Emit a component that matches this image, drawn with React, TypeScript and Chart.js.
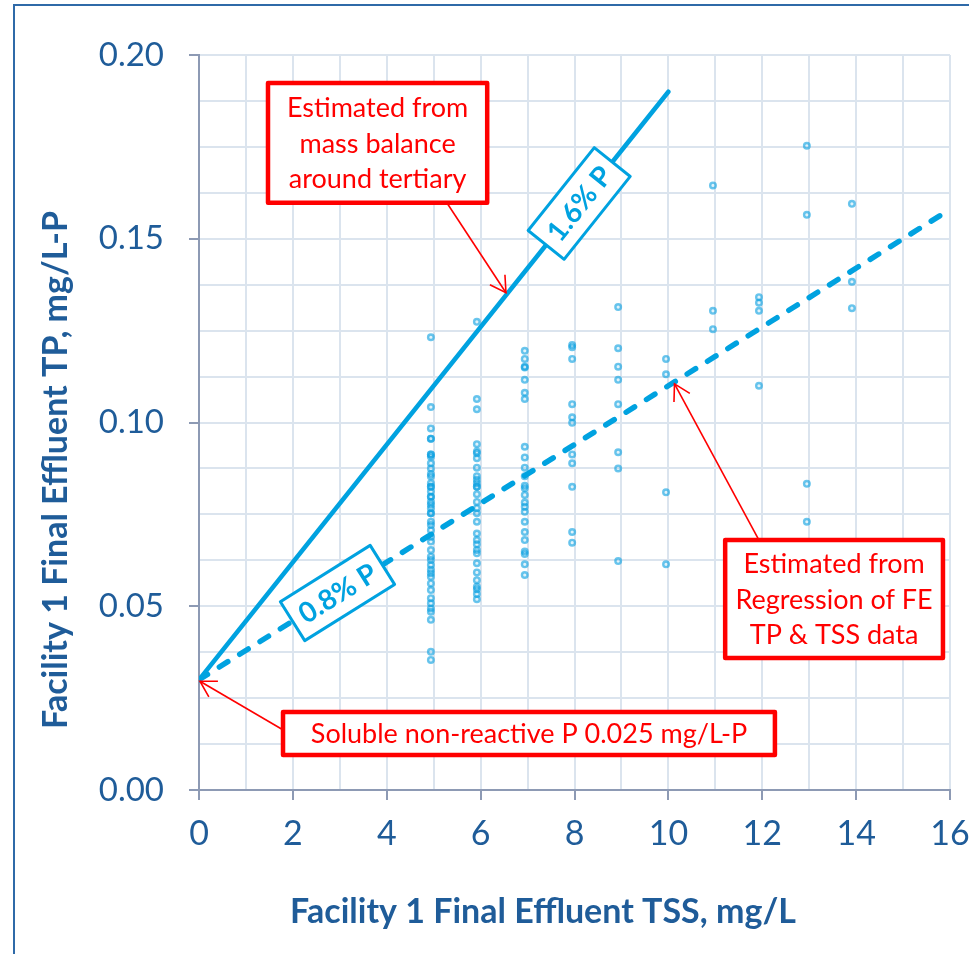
import React, { useEffect, useRef } from 'react';
import { Chart, registerables } from 'chart.js';

Chart.register(...registerables);

// ---------- data ----------
const tssLevels = [4.94, 5.92, 6.94, 7.95, 8.93, 9.95, 10.95, 11.93, 12.95, 13.91];

const tpAtTss5 = [0.1232, 0.1042, 0.0984, 0.0956, 0.0956, 0.0913, 0.0913, 0.0907, 0.0889, 0.0875, 0.086, 0.0853, 0.0835, 0.0825, 0.0825, 0.0812, 0.0798, 0.0798, 0.0784, 0.0776, 0.0767, 0.0753, 0.0753, 0.073, 0.0721, 0.0707, 0.0689, 0.0676, 0.0653, 0.0635, 0.0626, 0.0612, 0.0599, 0.059, 0.058, 0.0562, 0.0544, 0.0522, 0.0508, 0.0494, 0.0485, 0.0463, 0.0376, 0.0354];
const tpAtTss6 = [0.1274, 0.1064, 0.1036, 0.0941, 0.0921, 0.0916, 0.0903, 0.0877, 0.0854, 0.0844, 0.0835, 0.0825, 0.0825, 0.0805, 0.0784, 0.0767, 0.0753, 0.073, 0.0698, 0.068, 0.0669, 0.0653, 0.0644, 0.0617, 0.0592, 0.0571, 0.0553, 0.0546, 0.0533, 0.0519];
const tpAtTss7 = [0.1195, 0.1173, 0.1152, 0.115, 0.1116, 0.1081, 0.1064, 0.0934, 0.0905, 0.0877, 0.0854, 0.0828, 0.0821, 0.0803, 0.0782, 0.0771, 0.0757, 0.073, 0.0702, 0.068, 0.0649, 0.0642, 0.0614, 0.0585];
const tpAtTss8 = [0.1211, 0.1205, 0.1173, 0.105, 0.1014, 0.0999, 0.0913, 0.0889, 0.0825, 0.0702, 0.0673];
const tpAtTss9 = [0.1314, 0.1202, 0.1152, 0.1116, 0.105, 0.0919, 0.0875, 0.0623];
const tpAtTss10 = [0.1173, 0.1131, 0.081, 0.0614];
const tpAtTss11 = [0.1645, 0.1304, 0.1254];
const tpAtTss12 = [0.1341, 0.1326, 0.1304, 0.11];
const tpAtTss13 = [0.1753, 0.1565, 0.0833, 0.073];
const tpAtTss14 = [0.1595, 0.1383, 0.1311];
const tpColumns = [tpAtTss5, tpAtTss6, tpAtTss7, tpAtTss8, tpAtTss9, tpAtTss10, tpAtTss11, tpAtTss12, tpAtTss13, tpAtTss14];

// mass-balance line (1.6% P) and regression line (0.8% P)
const massBalanceX = [0, 10];
const massBalanceY = [0.03, 0.19];
const regressionX = [0, 16];
const regressionY = [0.03, 0.158];

const xTickLabels = ['0', '2', '4', '6', '8', '10', '12', '14', '16'];
const yTickLabels = ['0.00', '0.05', '0.10', '0.15', '0.20'];

const xTitle = 'Facility 1 Final Effluent TSS, mg/L';
const yTitle = 'Facility 1 Final Effluent TP, mg/L-P';

// ---------- styles ----------
const BLUE = '#00a2e0';
const RED = '#ff0000';
const AXIS = '#8d9ab4';
const GRID = '#dbe4ee';
const TEXT_BLUE = '#1f5c99';
const FRAME = '#2f6aa8';
const FONT = 'Lato, "Open Sans", sans-serif';

// callouts (positions in data units)
const callouts = [
  {
    lines: ['Estimated from', 'mass balance', 'around tertiary'],
    box: [1.47, 0.1924, 6.14, 0.1598],
    from: [5.28, 0.1598],
    to: [6.54, 0.1353],
  },
  {
    lines: ['Estimated from', 'Regression of FE', 'TP & TSS data'],
    box: [11.21, 0.068, 15.85, 0.0359],
    from: [11.93, 0.068],
    to: [10.13, 0.1105],
  },
  {
    lines: ['Soluble non-reactive P 0.025 mg/L-P'],
    box: [1.79, 0.0212, 12.27, 0.0095],
    from: [1.84, 0.016],
    to: [0.02, 0.0296],
  },
];

const slopeLabels = [
  { text: '1.6% P', xs: massBalanceX, ys: massBalanceY, at: 8.1 },
  { text: '0.8% P', xs: regressionX, ys: regressionY, at: 2.95 },
];

function drawArrowHead(ctx: CanvasRenderingContext2D, fx: number, fy: number, tx: number, ty: number) {
  const ang = Math.atan2(fy - ty, fx - tx);
  const len = 18;
  const spread = Math.PI / 6;
  ctx.beginPath();
  ctx.moveTo(tx + len * Math.cos(ang - spread), ty + len * Math.sin(ang - spread));
  ctx.lineTo(tx, ty);
  ctx.lineTo(tx + len * Math.cos(ang + spread), ty + len * Math.sin(ang + spread));
  ctx.stroke();
}

const annotationPlugin = {
  id: 'annotations',
  beforeDraw(chart: any) {
    const ctx = chart.ctx;
    ctx.save();
    ctx.fillStyle = '#ffffff';
    ctx.fillRect(0, 0, chart.width, chart.height);
    ctx.strokeStyle = FRAME;
    ctx.lineWidth = 2;
    ctx.strokeRect(14, 5, chart.width + 50, chart.height + 50);
    ctx.restore();
  },
  afterDraw(chart: any) {
    const ctx: CanvasRenderingContext2D = chart.ctx;
    const xs = chart.scales.x;
    const ys = chart.scales.y;
    const px = (v: number) => xs.getPixelForValue(v);
    const py = (v: number) => ys.getPixelForValue(v);

    // axis titles
    ctx.save();
    ctx.font = `bold 34px ${FONT}`;
    ctx.fillStyle = TEXT_BLUE;
    ctx.textAlign = 'center';
    ctx.textBaseline = 'middle';
    ctx.fillText(xTitle, 543, 912);
    ctx.translate(56, 470);
    ctx.rotate(-Math.PI / 2);
    ctx.fillText(yTitle, 0, 0);
    ctx.restore();

    // slope labels
    slopeLabels.forEach((s) => {
      const x0 = px(s.xs[0]);
      const y0 = py(s.ys[0]);
      const x1 = px(s.xs[1]);
      const y1 = py(s.ys[1]);
      const yv = s.ys[0] + ((s.ys[1] - s.ys[0]) * (s.at - s.xs[0])) / (s.xs[1] - s.xs[0]);
      const cx = px(s.at);
      const cy = py(yv);
      const ang = Math.atan2(y1 - y0, x1 - x0);
      ctx.save();
      ctx.translate(cx, cy);
      ctx.rotate(ang);
      const w = 106;
      const h = 46;
      ctx.fillStyle = '#ffffff';
      ctx.fillRect(-w / 2, -h / 2, w, h);
      ctx.strokeStyle = BLUE;
      ctx.lineWidth = 3;
      ctx.lineJoin = 'round';
      ctx.strokeRect(-w / 2, -h / 2, w, h);
      ctx.fillStyle = BLUE;
      ctx.font = `bold 28px ${FONT}`;
      ctx.textAlign = 'center';
      ctx.textBaseline = 'middle';
      ctx.fillText(s.text, 0, 1);
      ctx.restore();
    });

    // callouts
    callouts.forEach((c) => {
      ctx.save();
      ctx.strokeStyle = RED;
      ctx.lineWidth = 1.6;
      const fx = px(c.from[0]);
      const fy = py(c.from[1]);
      const tx = px(c.to[0]);
      const ty = py(c.to[1]);
      ctx.beginPath();
      ctx.moveTo(fx, fy);
      ctx.lineTo(tx, ty);
      ctx.stroke();
      drawArrowHead(ctx, fx, fy, tx, ty);

      const bx0 = px(c.box[0]);
      const by0 = py(c.box[1]);
      const bx1 = px(c.box[2]);
      const by1 = py(c.box[3]);
      ctx.fillStyle = '#ffffff';
      ctx.fillRect(bx0, by0, bx1 - bx0, by1 - by0);
      ctx.lineWidth = 4.5;
      ctx.lineJoin = 'round';
      ctx.strokeRect(bx0, by0, bx1 - bx0, by1 - by0);
      ctx.fillStyle = RED;
      ctx.font = `27px ${FONT}`;
      ctx.textAlign = 'center';
      ctx.textBaseline = 'middle';
      const lh = 35.5;
      const cx = (bx0 + bx1) / 2;
      const cy = (by0 + by1) / 2;
      c.lines.forEach((t, i) => {
        ctx.fillText(t, cx, cy + (i - (c.lines.length - 1) / 2) * lh + 1);
      });
      ctx.restore();
    });
  },
};

export default function App() {
  const ref = useRef<HTMLCanvasElement>(null);

  useEffect(() => {
    document.body.style.margin = '0';
    const canvas = ref.current;
    if (!canvas) return;

    const points: { x: number; y: number }[] = [];
    tssLevels.forEach((x, i) => tpColumns[i].forEach((y) => points.push({ x, y })));

    const isMajorX = (v: number) => Math.abs(v / 2 - Math.round(v / 2)) < 1e-6;
    const isMajorY = (v: number) => Math.abs(v / 0.05 - Math.round(v / 0.05)) < 1e-6;

    const chart = new Chart(canvas, {
      type: 'scatter',
      data: {
        datasets: [
          {
            type: 'line',
            label: '1.6% P',
            data: massBalanceX.map((x, i) => ({ x, y: massBalanceY[i] })),
            borderColor: BLUE,
            borderWidth: 4.5,
            borderCapStyle: 'round',
            pointRadius: 0,
            fill: false,
            order: 0,
          },
          {
            type: 'line',
            label: '0.8% P',
            data: regressionX.map((x, i) => ({ x, y: regressionY[i] })),
            borderColor: BLUE,
            borderWidth: 5.5,
            borderDash: [10, 14],
            borderCapStyle: 'round',
            pointRadius: 0,
            fill: false,
            order: 0,
          },
          {
            label: 'Final effluent TP vs TSS',
            data: points,
            pointRadius: 2.8,
            borderWidth: 2.4,
            borderColor: 'rgba(10,160,225,0.6)',
            backgroundColor: 'rgba(10,160,225,0.12)',
            order: 1,
          },
        ],
      } as any,
      options: {
        animation: false,
        responsive: false,
        devicePixelRatio: 1,
        layout: { padding: { left: 30, right: 19, top: 55, bottom: 0 } },
        plugins: {
          legend: { display: false },
          tooltip: { enabled: false },
        },
        scales: {
          x: {
            type: 'linear',
            min: 0,
            max: 16,
            ticks: {
              stepSize: 1,
              autoSkip: false,
              maxRotation: 0,
              color: TEXT_BLUE,
              font: { family: FONT, size: 34 },
              padding: 14,
              callback: (v: any) => (isMajorX(Number(v)) ? xTickLabels[Math.round(Number(v) / 2)] : ''),
            },
            grid: {
              color: GRID,
              lineWidth: 2,
              tickLength: 10,
              tickWidth: 2,
              tickColor: (c: any) => (c.tick && isMajorX(c.tick.value) ? AXIS : 'rgba(0,0,0,0)'),
            },
            border: { color: AXIS, width: 2 },
            title: { display: false, text: xTitle },
            afterFit: (s: any) => {
              s.height = 164;
              s.paddingLeft = 0;
              s.paddingRight = 0;
            },
          },
          y: {
            type: 'linear',
            min: 0,
            max: 0.2,
            ticks: {
              stepSize: 0.0125,
              autoSkip: false,
              color: TEXT_BLUE,
              font: { family: FONT, size: 33 },
              padding: 25,
              callback: (v: any) => (isMajorY(Number(v)) ? yTickLabels[Math.round(Number(v) / 0.05)] : ''),
            },
            grid: {
              color: GRID,
              lineWidth: 2,
              tickLength: 10,
              tickWidth: 2,
              tickColor: (c: any) => (c.tick && isMajorY(c.tick.value) ? AXIS : 'rgba(0,0,0,0)'),
            },
            border: { color: AXIS, width: 2 },
            title: { display: false, text: yTitle },
            afterFit: (s: any) => {
              s.width = 169;
              s.paddingTop = 0;
              s.paddingBottom = 0;
            },
          },
        },
      } as any,
      plugins: [annotationPlugin],
    });

    return () => chart.destroy();
  }, []);

  return (
    <canvas
      ref={ref}
      width={969}
      height={954}
      style={{ display: 'block', width: 969, height: 954 }}
    />
  );
}
